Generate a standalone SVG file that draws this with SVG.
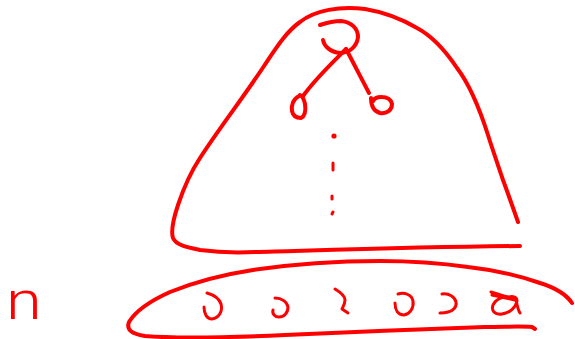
<svg xmlns="http://www.w3.org/2000/svg" width="575" height="339" viewBox="0 0 575 339">
<style>
.s{fill:none;stroke:#ff0000;stroke-width:4;stroke-linecap:round;stroke-linejoin:round}
.t{stroke-width:3}
.lbl{font-family:Roboto,"Liberation Sans",Arial,sans-serif;font-weight:300;fill:#ff0000}
</style>
<rect width="575" height="339" fill="#ffffff"/>
<g id="hill">
<path class="s" d="M518,222 C512,205 506,188 503,180 C498,165 492,148 488,135 C480,110 470,85 457,68 C445,50 432,36 417,28 C400,18 383,12 365,9 C340,6 315,10 300,22 C286,32 276,48 264,66 C245,95 218,130 200,158 C190,173 183,190 178,205 C173,220 171,232 173,238 C176,245 186,247 200,250 C215,252 235,253 255,252 C330,250 420,247 520,246"/>
</g>
<g id="root">
<path class="s" d="M323,40 C324,46 330,52 340,53 C350,53 357,46 358,37 C358,29 352,22 341,21 C333,21 326,23 320,25"/>
</g>
<g id="leftChild">
<path class="s" d="M299,96 C293,99 291,106 292,111 C293,116 297,118 301,118 C305,116 306,111 305,104 C304,99 302,96 300,95"/>
</g>
<g id="rightChild">
<path class="s" d="M371,98 C371,104 373,111 380,113 C387,114 392,110 392,104 C391,99 387,97 381,97 C377,97 374,99 373,101"/>
</g>
<g id="connectors">
<path class="s" d="M346,49 C333,62 316,78 303,96"/>
<path class="s" d="M346,49 C353,62 361,78 369,93"/>
</g>
<g id="dots">
<circle cx="334" cy="136" r="2.6" fill="#ff0000"/>
<path class="s t" d="M333,163 L333,170"/>
<path class="s t" d="M332,196 L332,199"/>
<path class="s t" d="M333,212 L332,214"/>
</g>
<g id="level">
<path class="s" d="M572,303 C566,294 556,288 540,283 C520,276 495,270 468,267 C440,263 410,261 380,261 C340,261 300,263 253,270 C220,275 195,282 170,292 C150,301 135,312 129,322 C126,330 132,334 145,336 C180,339 240,337 285,335 C350,332 420,329 485,327 C505,327 520,326 532,327 L535,329"/>
</g>
<g id="items">
<path class="s t" d="M207,293 C214,295 219,298 221,304 C223,311 219,318 212,319 C207,319 204,314 204,307"/>
<path class="s t" d="M275,298 C282,298 287,302 288,307 C288,313 284,317 279,317 C275,317 272,314 273,310"/>
<path class="s t" d="M335,289 C340,292 345,296 345,300 C345,304 343,307 342,309 L348,313"/>
<path class="s t" d="M398,294 C405,292 412,295 413,301 C414,308 410,314 404,315 C398,315 395,310 395,303"/>
<path class="s t" d="M442,294 C449,293 455,297 456,302 C457,307 453,311 448,312 C445,313 442,313 440,313"/>
<path class="s t" d="M491,292 L507,297 M492,295 L515,300 M509,297 C502,296 495,300 493,305 C491,311 495,315 502,314 C510,313 516,307 517,301 C517,297 513,296 509,297 M516,300 C517,305 518,310 520,313"/>
</g>
<g id="label">
<text class="lbl" x="6" y="319" font-size="52" transform="translate(6,319) scale(1.25,1) translate(-6,-319)">n</text>
</g>
</svg>
